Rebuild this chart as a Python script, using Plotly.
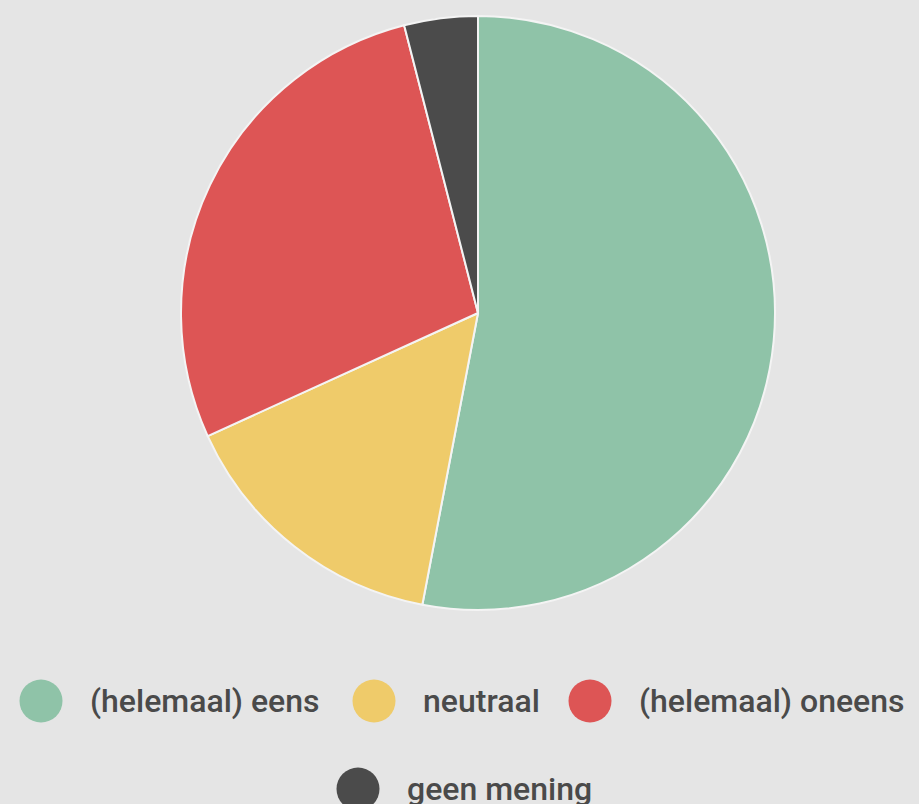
import plotly.graph_objects as go

categories = ["(helemaal) eens", "neutraal", "(helemaal) oneens", "geen mening"]
values = [53, 15.2, 27.8, 4]
colors = ["#8fc3a8", "#efcb6a", "#dd5555", "#4b4b4b"]

W, H = 919, 804
fig = go.Figure()
fig.add_trace(go.Pie(
    labels=categories, values=values, sort=False, direction="clockwise", rotation=0,
    marker=dict(colors=colors, line=dict(color="#f4f4f4", width=2)),
    textinfo="none", hoverinfo="label+percent", showlegend=False,
    domain=dict(x=[(478 - 297) / W, (478 + 297) / W], y=[(H - 610) / H, (H - 16) / H]),
))

# custom legend (large circular markers), laid out like the reference
legend_pos = [(41, 701), (374, 701), (590, 701), (358, 789)]
r = 21.5
shapes, annotations = [], []
for cat, col, (cx, cy) in zip(categories, colors, legend_pos):
    shapes.append(dict(type="circle", xref="paper", yref="paper",
                       x0=(cx - r) / W, x1=(cx + r) / W,
                       y0=(H - cy - r) / H, y1=(H - cy + r) / H,
                       fillcolor=col, line=dict(width=0)))
    annotations.append(dict(text=cat, xref="paper", yref="paper",
                            x=(cx + 47) / W, y=(H - cy) / H,
                            xanchor="left", yanchor="middle", showarrow=False,
                            font=dict(family="Roboto", size=32, weight=500, color="#4a4a4a")))

fig.update_layout(
    width=W, height=H, margin=dict(l=0, r=0, t=0, b=0),
    paper_bgcolor="#e5e5e5", plot_bgcolor="#e5e5e5",
    shapes=shapes, annotations=annotations,
    font=dict(family="Roboto"),
)
fig.write_html("out.html", config={"displayModeBar": False},
               post_script="document.body.style.margin='0';document.body.style.background='#e5e5e5';document.body.style.overflow='hidden';")
